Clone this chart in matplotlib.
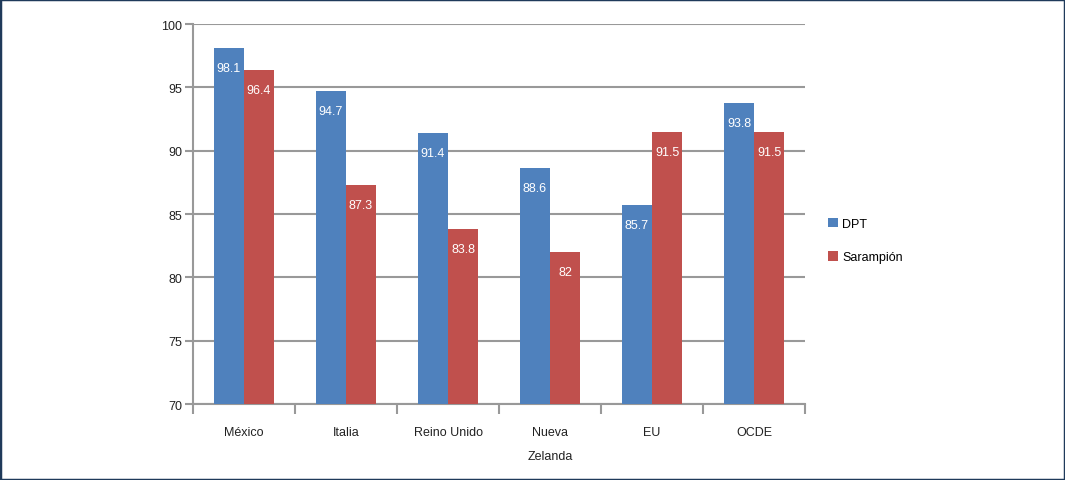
import matplotlib
matplotlib.use("Agg")
import matplotlib.pyplot as plt
import numpy as np
from matplotlib.patches import Rectangle

categories = ["México", "Italia", "Reino Unido", "Nueva\nZelanda", "EU", "OCDE"]
dpt = [98.1, 94.7, 91.4, 88.6, 85.7, 93.8]
sarampion = [96.4, 87.3, 83.8, 82, 91.5, 91.5]
dpt_labels = ["98.1", "94.7", "91.4", "88.6", "85.7", "93.8"]
sar_labels = ["96.4", "87.3", "83.8", "82", "91.5", "91.5"]
yticks = [70, 75, 80, 85, 90, 95, 100]

plt.rcParams['font.family'] = ['Liberation Sans', 'DejaVu Sans']

fig = plt.figure(figsize=(10.65, 4.81), dpi=100)
ax = fig.add_axes([193/1065, 1-405/481, 612/1065, 380/481])

blue = "#4F81BD"
red = "#C0504D"
grid = "#999999"

x = np.arange(len(categories))
w = 0.295
ax.bar(x - w/2, dpt, w, color=blue, label="DPT", zorder=3)
ax.bar(x + w/2, sarampion, w, color=red, label="Sarampión", zorder=3)

ax.set_ylim(70, 100)
ax.set_xlim(-0.5, len(categories) - 0.5)
ax.set_yticks(yticks)
ax.yaxis.grid(True, color=grid, linewidth=1.5, zorder=0)
ax.set_axisbelow(True)

for s in ["top", "right"]:
    ax.spines[s].set_visible(False)
for s in ["left", "bottom"]:
    ax.spines[s].set_color(grid)
    ax.spines[s].set_linewidth(1.5)

ax.set_xticks(np.arange(len(categories) + 1) - 0.5)
ax.set_xticklabels([])
ax.set_xticks(x, minor=True)
ax.set_xticklabels(categories, minor=True, fontsize=9, color="#222222", linespacing=2.3, va="top")
ax.tick_params(axis="x", which="minor", length=0, pad=16)
ax.tick_params(axis="x", which="major", length=7, color=grid, width=1.5)
ax.tick_params(axis="y", length=6, color=grid, width=1.5, labelsize=9, labelcolor="#222222", pad=2)

for xi, v, t in zip(x, dpt, dpt_labels):
    ax.annotate(t, (xi - w/2, v), xytext=(0, -20), textcoords="offset pixels",
                ha="center", va="center", color="white", fontsize=9, zorder=4)
for xi, v, t in zip(x, sarampion, sar_labels):
    ax.annotate(t, (xi + w/2, v), xytext=(0, -20), textcoords="offset pixels",
                ha="center", va="center", color="white", fontsize=9, zorder=4)

leg = ax.legend(loc="center left", bbox_to_anchor=(1.02, 0.43), frameon=False,
                fontsize=9, handlelength=0.8, handleheight=0.8, labelspacing=1.7, handletextpad=0.3)

fig.patches.append(Rectangle((0, 0), 1, 1, transform=fig.transFigure, fill=False,
                             edgecolor="#1F3A5A", linewidth=2.5, zorder=10))

fig.savefig("out.png", dpi=100)
